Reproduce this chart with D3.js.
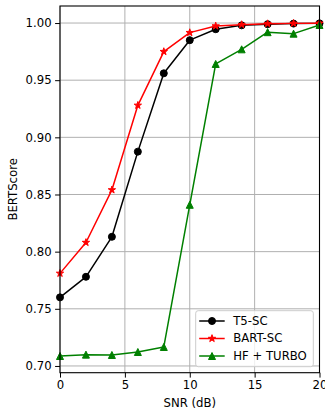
<!DOCTYPE html>
<html>
<head>
<meta charset="utf-8">
<script src="https://cdn.jsdelivr.net/npm/d3@7"></script>
<style>
  body { margin: 0; background: #fff; }
  svg { display: block; font-family: "DejaVu Sans", sans-serif; }
  svg text { font-family: "DejaVu Sans", sans-serif; font-size: 11.7px; fill: #000; }
</style>
</head>
<body>
<div id="chart"></div>
<script>
// Data
const snr = [0, 2, 4, 6, 8, 10, 12, 14, 16, 18, 20];
const t5sc = [0.760, 0.778, 0.813, 0.8875, 0.956, 0.985, 0.9946, 0.998, 0.999, 0.9995, 0.9997];
const bartsc = [0.781, 0.808, 0.854, 0.928, 0.975, 0.9916, 0.9974, 0.9986, 0.9994, 0.9997, 0.9998];
const hfTurbo = [0.7087, 0.7099, 0.7096, 0.7122, 0.7166, 0.841, 0.9642, 0.977, 0.992, 0.9907, 0.9983];
const xTicks = [0, 5, 10, 15, 20];
const yTicks = [0.70, 0.75, 0.80, 0.85, 0.90, 0.95, 1.00];

const series = [
  { name: "T5-SC", values: t5sc, color: "#000000", marker: "circle" },
  { name: "BART-SC", values: bartsc, color: "#ff0000", marker: "star" },
  { name: "HF + TURBO", values: hfTurbo, color: "#008000", marker: "triangle" }
];

const width = 325,
    height = 412,
    margin = ({ top: 6, right: 5.5, bottom: 39.3, left: 60 });

const svg = d3.select("#chart")
    .append("svg")
    .attr("width", width)
    .attr("height", height)
    .attr("viewBox", [0, 0, width, height]);

let x = d3.scaleLinear()
    .domain([0, 20])
    .range([margin.left, width - margin.right]);

let y = d3.scaleLinear()
    .domain([0.6941, 1.0149])
    .range([height - margin.bottom, margin.top]);

// marker shapes in the matplotlib style
const ms = 7;
function markerPath(kind) {
  const r = ms / 2;
  if (kind === "circle") {
    return d3.symbol(d3.symbolCircle, Math.PI * r * r)();
  }
  if (kind === "triangle") {
    return `M0,${-r}L${r},${r}L${-r},${r}Z`;
  }
  // five point star
  let p = d3.path();
  for (let i = 0; i < 10; i++) {
    let rr = i % 2 === 0 ? r * 1.1 : r * 0.42;
    let a = -Math.PI / 2 + i * Math.PI / 5;
    if (i === 0) p.moveTo(rr * Math.cos(a), rr * Math.sin(a));
    else p.lineTo(rr * Math.cos(a), rr * Math.sin(a));
  }
  p.closePath();
  return p.toString();
}

// grid
svg.append("g")
    .selectAll("line")
    .data(xTicks)
    .join("line")
    .attr("x1", d => x(d)).attr("x2", d => x(d))
    .attr("y1", margin.top).attr("y2", height - margin.bottom)
    .attr("stroke", "#b0b0b0").attr("stroke-width", 1);

svg.append("g")
    .selectAll("line")
    .data(yTicks)
    .join("line")
    .attr("x1", margin.left).attr("x2", width - margin.right)
    .attr("y1", d => y(d)).attr("y2", d => y(d))
    .attr("stroke", "#b0b0b0").attr("stroke-width", 1);

// axes
svg.append("g")
    .attr("transform", `translate(0,${height - margin.bottom})`)
    .call(d3.axisBottom(x).tickValues(xTicks).tickFormat(d3.format("d")).tickSize(4.9).tickPadding(3.5).tickSizeOuter(0))
    .call(g => g.attr("font-size", null).attr("font-family", null))
    .call(g => g.select(".domain").remove())
    .call(g => g.selectAll(".tick line").attr("stroke-width", 1));

svg.append("g")
    .attr("transform", `translate(${margin.left},0)`)
    .call(d3.axisLeft(y).tickValues(yTicks).tickFormat(d3.format(".2f")).tickSize(4.9).tickPadding(3.5).tickSizeOuter(0))
    .call(g => g.attr("font-size", null).attr("font-family", null))
    .call(g => g.select(".domain").remove())
    .call(g => g.selectAll(".tick line").attr("stroke-width", 1));

// lines and markers
let line = d3.line()
    .x((d, i) => x(snr[i]))
    .y(d => y(d));

for (let s of series) {
  svg.append("path")
      .datum(s.values)
      .attr("d", line)
      .attr("fill", "none")
      .attr("stroke", s.color)
      .attr("stroke-width", 1.5)
      .attr("stroke-linejoin", "round");

  svg.append("g")
      .selectAll("path")
      .data(s.values)
      .join("path")
      .attr("transform", (d, i) => `translate(${x(snr[i])},${y(d)})`)
      .attr("d", markerPath(s.marker))
      .attr("fill", s.color)
      .attr("stroke", s.color)
      .attr("stroke-width", 1);
}

// frame
svg.append("rect")
    .attr("x", margin.left)
    .attr("y", margin.top)
    .attr("width", width - margin.left - margin.right)
    .attr("height", height - margin.top - margin.bottom)
    .attr("fill", "none")
    .attr("stroke", "#000")
    .attr("stroke-width", 1.1);

// axis labels
svg.append("text")
    .attr("text-anchor", "middle")
    .attr("x", (margin.left + width - margin.right) / 2)
    .attr("y", 406.5)
    .text("SNR (dB)");

svg.append("text")
    .attr("text-anchor", "middle")
    .attr("transform", `translate(16.5,${(margin.top + height - margin.bottom) / 2}) rotate(-90)`)
    .text("BERTScore");

// legend
const legend = svg.append("g").attr("transform", "translate(195.7,310.7)");
legend.append("rect")
    .attr("width", 117.6)
    .attr("height", 56)
    .attr("rx", 2.5)
    .attr("fill", "#fff")
    .attr("fill-opacity", 0.8)
    .attr("stroke", "#cccccc")
    .attr("stroke-width", 1);

series.forEach((s, i) => {
  let ly = 10.3 + i * 17.5;
  legend.append("line")
      .attr("x1", 3.5).attr("x2", 29)
      .attr("y1", ly).attr("y2", ly)
      .attr("stroke", s.color)
      .attr("stroke-width", 1.5);
  legend.append("path")
      .attr("transform", `translate(16.3,${ly})`)
      .attr("d", markerPath(s.marker))
      .attr("fill", s.color)
      .attr("stroke", s.color)
      .attr("stroke-width", 1);
  legend.append("text")
      .attr("x", 37.5)
      .attr("y", ly + 4)
      .text(s.name);
});
</script>
</body>
</html>
